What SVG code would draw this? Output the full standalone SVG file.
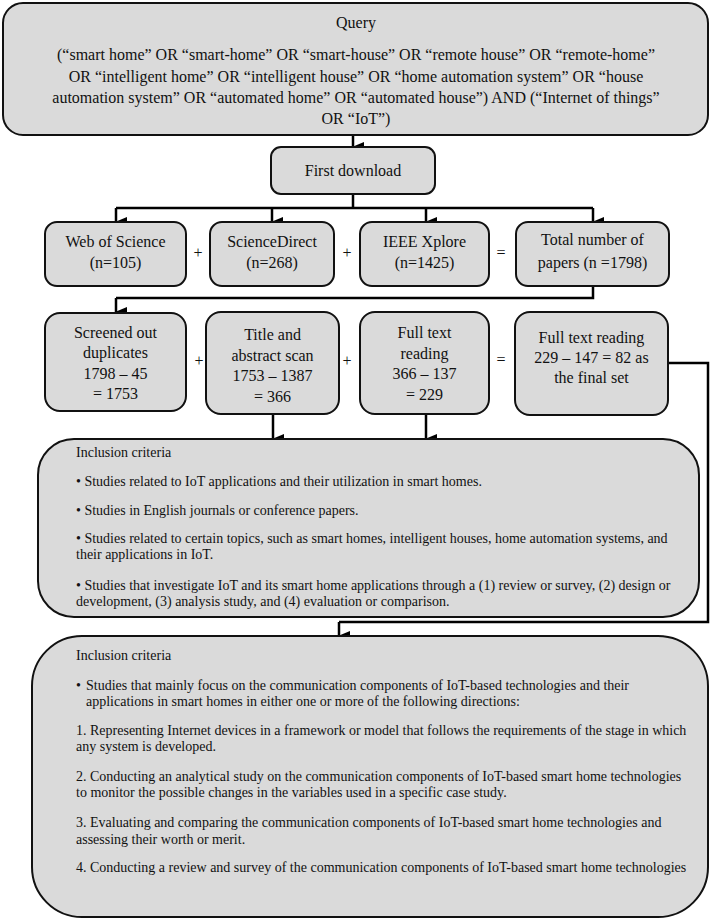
<svg xmlns="http://www.w3.org/2000/svg" width="712" height="919" viewBox="0 0 712 919">
<defs>
<marker id="ah" markerUnits="userSpaceOnUse" markerWidth="10" markerHeight="12" viewBox="0 0 10 12" refX="5" refY="11" orient="auto-start-reverse">
<path d="M0,0 L10,0 L5,12 Z" fill="#000"/>
</marker>
<style>
.box{fill:#dadada;stroke:#111;stroke-width:2}
.t{font-family:"Liberation Serif","Times New Roman",serif;font-size:16px;fill:#111}
.c{text-anchor:middle}
.s{font-family:"Liberation Serif","Times New Roman",serif;font-size:14px;fill:#111}
.s2{font-family:"Liberation Serif","Times New Roman",serif;font-size:14px;fill:#111}
.op{font-family:"Liberation Serif","Times New Roman",serif;font-size:16px;fill:#111;text-anchor:middle}
.ln{fill:none;stroke:#000;stroke-width:2.5}
.ar{fill:none;stroke:#000;stroke-width:2.5;marker-end:url(#ah)}
</style>
</defs>
<rect width="712" height="919" fill="#fff"/>

<g id="connectors">
<path class="ar" d="M353,135 V147"/>
<path class="ln" d="M353,194 V208 M116,208 H593"/>
<path class="ar" d="M116,208 V222"/>
<path class="ar" d="M272,208 V222"/>
<path class="ar" d="M426,208 V222"/>
<path class="ar" d="M593,208 V222"/>
<path class="ln" d="M593,286 V298 H116"/>
<path class="ar" d="M116,298 V312"/>
<path class="ar" d="M273,414 V439"/>
<path class="ar" d="M426,414 V439"/>
<path class="ln" d="M668,363 H708 V622 H339"/>
<path class="ar" d="M339,622 V636"/>
</g>

<g id="query">
<rect class="box" x="3" y="3" width="705" height="132" rx="20"/>
<text class="t c" x="356" y="28">Query</text>
<text class="t c" x="356" y="60">(“smart home” OR “smart-home” OR “smart-house” OR “remote house” OR “remote-home”</text>
<text class="t c" x="356" y="82">OR “intelligent home” OR “intelligent house” OR “home automation system” OR “house</text>
<text class="t c" x="356" y="103">automation system” OR “automated home” OR “automated house”) AND (“Internet of things”</text>
<text class="t c" x="356" y="124">OR “IoT”)</text>
</g>

<g id="first-download">
<rect class="box" x="271" y="147" width="164" height="47" rx="10"/>
<text class="t c" x="353" y="176">First download</text>
</g>

<g id="wos">
<rect class="box" x="45" y="222" width="141" height="64" rx="12"/>
<text class="t c" x="115.5" y="247">Web of Science</text>
<text class="t c" x="115.5" y="268">(n=105)</text>
</g>
<text class="op" x="198" y="258">+</text>
<g id="sciencedirect">
<rect class="box" x="210" y="222" width="124" height="64" rx="12"/>
<text class="t c" x="272" y="247">ScienceDirect</text>
<text class="t c" x="272" y="268">(n=268)</text>
</g>
<text class="op" x="347" y="258">+</text>
<g id="ieee">
<rect class="box" x="360" y="222" width="129" height="64" rx="12"/>
<text class="t c" x="424.5" y="247">IEEE Xplore</text>
<text class="t c" x="424.5" y="268">(n=1425)</text>
</g>
<text class="op" x="501" y="258">=</text>
<g id="total">
<rect class="box" x="516" y="222" width="153" height="64" rx="12"/>
<text class="t c" x="592.5" y="245">Total number of</text>
<text class="t c" x="592.5" y="268">papers (n =1798)</text>
</g>

<g id="screened">
<rect class="box" x="45" y="313" width="141" height="98" rx="15"/>
<text class="t c" x="115.5" y="338">Screened out</text>
<text class="t c" x="115.5" y="358">duplicates</text>
<text class="t c" x="115.5" y="379">1798 – 45</text>
<text class="t c" x="115.5" y="399">= 1753</text>
</g>
<text class="op" x="199" y="366">+</text>
<g id="title-abstract">
<rect class="box" x="206" y="312" width="133" height="102" rx="15"/>
<text class="t c" x="272.5" y="340">Title and</text>
<text class="t c" x="272.5" y="361">abstract scan</text>
<text class="t c" x="272.5" y="381">1753 – 1387</text>
<text class="t c" x="272.5" y="402">= 366</text>
</g>
<text class="op" x="347" y="366">+</text>
<g id="fulltext">
<rect class="box" x="360" y="312" width="129" height="102" rx="15"/>
<text class="t c" x="424.5" y="338">Full text</text>
<text class="t c" x="424.5" y="359">reading</text>
<text class="t c" x="424.5" y="379">366 – 137</text>
<text class="t c" x="424.5" y="400">= 229</text>
</g>
<text class="op" x="501" y="365">=</text>
<g id="final">
<rect class="box" x="515" y="312" width="153" height="103" rx="15"/>
<text class="t c" x="591.5" y="343">Full text reading</text>
<text class="t c" x="591.5" y="363">229 – 147 = 82 as</text>
<text class="t c" x="591.5" y="383">the final set</text>
</g>

<g id="inclusion-1">
<rect class="box" x="38" y="439" width="661" height="178" rx="36"/>
<text class="s" x="76" y="457">Inclusion criteria</text>
<text class="s" x="76" y="486">• Studies related to IoT applications and their utilization in smart homes.</text>
<text class="s" x="76" y="515">• Studies in English journals or conference papers.</text>
<text class="s" x="76" y="543">• Studies related to certain topics, such as smart homes, intelligent houses, home automation systems, and</text>
<text class="s" x="76" y="559">their applications in IoT.</text>
<text class="s" x="76" y="590">• Studies that investigate IoT and its smart home applications through a (1) review or survey, (2) design or</text>
<text class="s" x="76" y="606">development, (3) analysis study, and (4) evaluation or comparison.</text>
</g>

<g id="inclusion-2">
<rect class="box" x="32" y="636" width="676" height="281" rx="50"/>
<text class="s2" x="76" y="660">Inclusion criteria</text>
<text class="s2" x="76" y="690">•</text>
<text class="s2" x="86" y="690">Studies that mainly focus on the communication components of IoT-based technologies and their</text>
<text class="s2" x="86" y="706">applications in smart homes in either one or more of the following directions:</text>
<text class="s2" x="76" y="735">1. Representing Internet devices in a framework or model that follows the requirements of the stage in which</text>
<text class="s2" x="76" y="751">any system is developed.</text>
<text class="s2" x="76" y="781">2. Conducting an analytical study on the communication components of IoT-based smart home technologies</text>
<text class="s2" x="76" y="797">to monitor the possible changes in the variables used in a specific case study.</text>
<text class="s2" x="76" y="827">3. Evaluating and comparing the communication components of IoT-based smart home technologies and</text>
<text class="s2" x="76" y="844">assessing their worth or merit.</text>
<text class="s2" x="76" y="872">4. Conducting a review and survey of the communication components of IoT-based smart home technologies</text>
</g>
</svg>
